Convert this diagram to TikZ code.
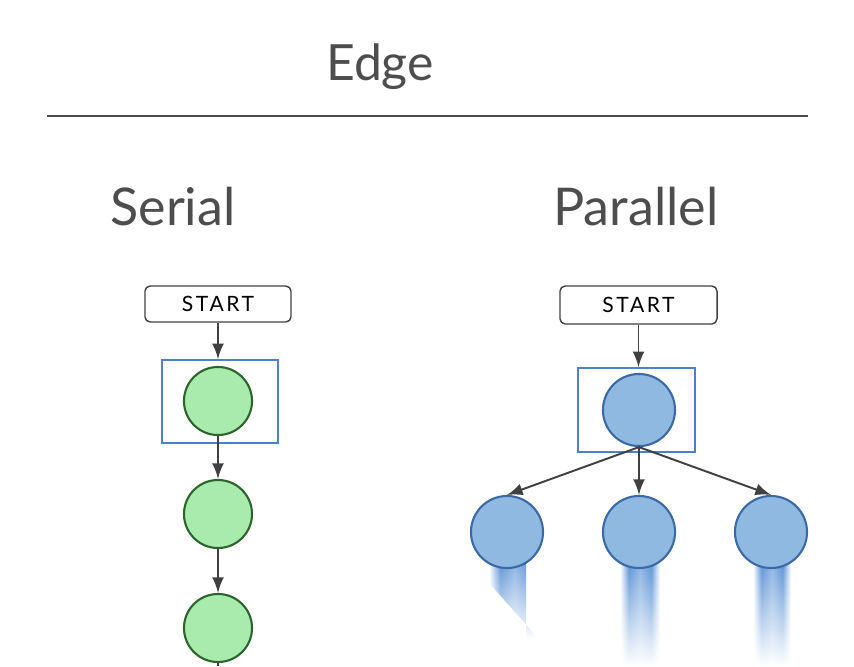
\documentclass[tikz,border=0pt]{standalone}
\usepackage{fontspec}
\setmainfont{Lato}
\usepackage{xcolor}
\usetikzlibrary{arrows}
\usetikzlibrary{math, fadings}
\definecolor{mygray}{RGB}{77,77,77}
\definecolor{myarrow}{RGB}{64,64,64}
\definecolor{mygreen}{RGB}{168,235,172}
\definecolor{mydkgreen}{RGB}{45,100,45}
\definecolor{myblue}{RGB}{143,185,225}
\definecolor{mydkblue}{RGB}{58,105,165}
\definecolor{myframe}{RGB}{76,128,200}
\definecolor{mystream}{RGB}{90,145,212}
\pgfdeclarehorizontalshading{stream}{100bp}{color(0bp)=(white); color(25bp)=(white);
  color(36bp)=(mystream); color(50bp)=(mystream!70); color(64bp)=(mystream);
  color(75bp)=(white); color(100bp)=(white)}
\tikzfading[name=streamfade, top color=transparent!0, middle color=transparent!15,
  bottom color=transparent!100]

\begin{document}
\begin{tikzpicture}[x=0.01cm, y=-0.01cm,
  startbox/.style={draw=myarrow, line width=0.4pt, rounded corners=1.5pt,
    minimum height=0.36cm, inner sep=0pt,
    font=\addfontfeature{LetterSpace=12}\fontsize{6}{6}\selectfont},
  gnode/.style={circle, draw=mydkgreen, fill=mygreen, line width=0.6pt,
    minimum size=0.68cm, inner sep=0pt},
  bnode/.style={circle, draw=mydkblue, fill=myblue, line width=0.6pt,
    minimum size=0.72cm, inner sep=0pt},
  framebox/.style={draw=myframe, line width=0.45pt, inner sep=0pt},
  link/.style={-latex, draw=myarrow, line width=0.55pt},
  heading/.style={text=mygray, anchor=base, inner sep=0pt},
  streambar/.style={shading=stream, path fading=streamfade}]
\tikzmath{
\xs=218;
\xp=639;
\yc=532;
}
\useasboundingbox (0,0) rectangle (854,666);

 % title and rule
 \node[heading, font=\fontsize{14.2}{16}\selectfont] (title) at (380,80) {Edge};
 \coordinate (R1) at (47,116);
 \coordinate (R2) at (808,116);
 \draw[mygray, line width=0.55pt] (R1) -- (R2);

 \node[heading, font=\fontsize{14.8}{18}\selectfont] (serial) at (173,225) {Serial};
 \node[heading, font=\fontsize{14.8}{18}\selectfont] (parallel) at (636,225) {Parallel};

 % serial chain
 \node[startbox, minimum width=1.46cm] (s1) at (\xs,304) {START};
 \node[framebox, minimum width=1.16cm, minimum height=0.83cm] (f1) at (220,401.5) {};
 \node[gnode] (g1) at (\xs,401) {};
 \node[gnode] (g2) at (\xs,514) {};
 \node[gnode] (g3) at (\xs,628) {};
 \coordinate (gend) at (\xs,666);

 \draw[link] (s1.south) -- (s1.south |- f1.north);
 \draw[link] (g1.south) -- (g2.north);
 \draw[link] (g2.south) -- (g3.north);
 \draw[myarrow, line width=0.55pt] (g3.south) -- (gend);

 % parallel fan
 \shade[streambar] (489,560) -- (526,560) -- (526,640) -- (540,640) -- (489,583) -- cycle;
 \shade[streambar] (620,560) rectangle (660,666);
 \shade[streambar] (753,560) rectangle (791,666);

 \node[startbox, minimum width=1.57cm, minimum height=0.38cm] (s2) at (638.5,305) {START};
 \node[framebox, minimum width=1.17cm, minimum height=0.84cm] (f2) at (636.5,410) {};
 \node[bnode] (p0) at (\xp,410) {};
 \node[bnode] (p1) at (507,\yc) {};
 \node[bnode] (p2) at (\xp,\yc) {};
 \node[bnode] (p3) at (771,\yc) {};

 \draw[link] (s2.south) -- (s2.south |- f2.north);
 \draw[link] (p0.south) -- (p1.north);
 \draw[link] (p0.south) -- (p2.north);
 \draw[link] (p0.south) -- (p3.north);

\end{tikzpicture}
\end{document}
